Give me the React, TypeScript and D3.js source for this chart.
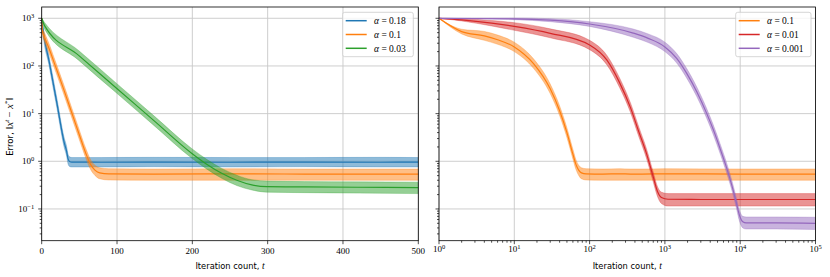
import React from 'react';
import * as d3 from 'd3';

// rows: [iteration t, lower band, mean, upper band]
type Row = [number, number, number, number];

const blueRows: Row[] = [
  [1, 1000, 1000, 1000],
  [2, 630, 708, 790],
  [11, 97, 122, 153],
  [21, 13.6, 17.2, 21.7],
  [31, 1.92, 2.43, 3.06],
  [34, 1.3, 1.64, 2.07],
  [36, 0.88, 1.12, 1.4],
  [38, 0.78, 0.99, 1.24],
  [41, 0.76, 0.96, 1.2],
  [80, 0.76, 0.955, 1.2],
  [150, 0.77, 0.96, 1.21],
  [250, 0.76, 0.955, 1.2],
  [350, 0.77, 0.96, 1.2],
  [450, 0.76, 0.955, 1.21],
  [501, 0.76, 0.96, 1.2],
];

const orangeRows: Row[] = [
  [1, 1000, 1000, 1000],
  [2, 470, 525, 590],
  [4, 345, 427, 530],
  [6, 285, 355, 445],
  [10, 200, 251, 315],
  [18, 89, 112, 141],
  [30, 26.3, 33.1, 41.7],
  [40, 9.1, 11.5, 14.5],
  [50, 3.15, 3.98, 5.0],
  [60, 1.12, 1.41, 1.78],
  [66, 0.67, 0.85, 1.07],
  [72, 0.5, 0.645, 0.82],
  [78, 0.43, 0.57, 0.73],
  [90, 0.405, 0.545, 0.7],
  [150, 0.4, 0.54, 0.69],
  [250, 0.4, 0.545, 0.7],
  [350, 0.4, 0.54, 0.69],
  [501, 0.4, 0.54, 0.69],
  [1000, 0.4, 0.545, 0.7],
  [10000, 0.4, 0.54, 0.69],
  [100000, 0.4, 0.54, 0.69],
];

const greenRows: Row[] = [
  [1, 1000, 1000, 1000],
  [5, 590, 692, 810],
  [50, 132, 167, 211],
  [100, 27.4, 34.6, 43.6],
  [150, 5.65, 7.14, 9.0],
  [200, 1.17, 1.48, 1.86],
  [220, 0.69, 0.87, 1.1],
  [240, 0.44, 0.56, 0.71],
  [260, 0.31, 0.4, 0.51],
  [280, 0.25, 0.32, 0.41],
  [300, 0.225, 0.295, 0.385],
  [350, 0.22, 0.29, 0.375],
  [420, 0.215, 0.285, 0.37],
  [501, 0.21, 0.28, 0.365],
];

const redRows: Row[] = [
  [1, 1000, 1000, 1000],
  [2, 880, 930, 980],
  [5, 690, 794, 900],
  [10, 560, 676, 810],
  [30, 390, 484, 600],
  [100, 220, 275, 345],
  [170, 105, 132, 166],
  [250, 35.5, 44.7, 56],
  [350, 10.5, 13.2, 16.6],
  [450, 3.3, 4.17, 5.25],
  [570, 1.15, 1.45, 1.82],
  [700, 0.37, 0.47, 0.59],
  [800, 0.18, 0.23, 0.29],
  [900, 0.13, 0.174, 0.225],
  [1100, 0.115, 0.16, 0.21],
  [3000, 0.115, 0.158, 0.21],
  [10000, 0.115, 0.158, 0.21],
  [100000, 0.115, 0.158, 0.21],
];

const purpleRows: Row[] = [
  [1, 1000, 1000, 1000],
  [10, 935, 977, 1020],
  [30, 850, 912, 980],
  [100, 675, 759, 850],
  [380, 400, 490, 595],
  [600, 310, 380, 470],
  [1000, 200, 251, 316],
  [1435, 115, 145, 182],
  [1950, 55.5, 70, 88],
  [2650, 22.8, 28.8, 36.3],
  [3600, 7.9, 10, 12.6],
  [4400, 3.6, 4.57, 5.75],
  [5400, 1.47, 1.86, 2.34],
  [6630, 0.56, 0.713, 0.9],
  [7730, 0.25, 0.316, 0.4],
  [8830, 0.11, 0.141, 0.178],
  [9770, 0.056, 0.074, 0.094],
  [10820, 0.04, 0.054, 0.07],
  [12000, 0.038, 0.051, 0.068],
  [30000, 0.038, 0.051, 0.068],
  [100000, 0.037, 0.05, 0.067],
];

const leftSeries = [
  { alpha: '0.18', color: '#1f77b4', rows: blueRows },
  { alpha: '0.1', color: '#ff7f0e', rows: orangeRows },
  { alpha: '0.03', color: '#2ca02c', rows: greenRows },
];

const rightSeries = [
  { alpha: '0.1', color: '#ff7f0e', rows: orangeRows },
  { alpha: '0.01', color: '#d62728', rows: redRows },
  { alpha: '0.001', color: '#9467bd', rows: purpleRows },
];

const SERIF = '"Liberation Serif", "DejaVu Serif", serif';
const SANS = '"DejaVu Sans", sans-serif';

const top = 7;
const bottom = 240.7;

const yScale = d3.scaleLog().domain([10 ** -1.666, 10 ** 3.237]).range([bottom, top]);

const isDecade = (v: number) => Math.abs(Math.log10(v) - Math.round(Math.log10(v))) < 1e-9;
const expLabel = (v: number) => {
  const e = Math.round(Math.log10(v));
  return e < 0 ? '\u2212' + -e : String(e);
};

type Series = { alpha: string; color: string; rows: Row[] };

function Panel(props: {
  id: string;
  x0: number;
  x1: number;
  logX: boolean;
  series: Series[];
  showYLabels: boolean;
  legendX: number;
  legendW: number;
}) {
  const { id, x0, x1, logX, series, showYLabels, legendX, legendW } = props;
  const xScale: any = logX
    ? d3.scaleLog().domain([1, 1e5]).range([x0, x1])
    : d3.scaleLinear().domain([0, 500]).range([x0, x1]);
  // left panel counts from zero
  const xOf = (t: number) => (logX ? t : t - 1);

  const line = d3.line<Row>()
    .x((r) => xScale(xOf(r[0])))
    .y((r) => yScale(r[2]))
    .curve(d3.curveMonotoneX);
  const area = d3.area<Row>()
    .x((r) => xScale(xOf(r[0])))
    .y0((r) => yScale(r[1]))
    .y1((r) => yScale(r[3]))
    .curve(d3.curveMonotoneX);

  const xAll: number[] = logX ? xScale.ticks() : xScale.ticks(5);
  const xMajor = logX ? xAll.filter(isDecade) : xAll;
  const xMinor = logX ? xAll.filter((v) => !isDecade(v)) : [];
  const yAll = yScale.ticks();
  const yMajor = yAll.filter(isDecade);
  const yMinor = yAll.filter((v) => !isDecade(v));

  const rowY = [20.7, 34.5, 48.3];

  return (
    <g>
      <defs>
        <clipPath id={`clip-${id}`}>
          <rect x={x0} y={top} width={x1 - x0} height={bottom - top} />
        </clipPath>
      </defs>

      {/* grid */}
      <g stroke="#c8c8c8" strokeWidth={0.9}>
        {xMajor.map((v) => (
          <line key={'gx' + v} x1={xScale(v)} x2={xScale(v)} y1={top} y2={bottom} />
        ))}
        {yMajor.map((v) => (
          <line key={'gy' + v} x1={x0} x2={x1} y1={yScale(v)} y2={yScale(v)} />
        ))}
      </g>

      {/* bands and mean lines */}
      <g clipPath={`url(#clip-${id})`}>
        {series.map((s) => (
          <g key={s.alpha}>
            <path d={area(s.rows) || ''} fill={s.color} fillOpacity={0.5}
              stroke={s.color} strokeOpacity={0.5} strokeWidth={0.6} />
            <path d={line(s.rows) || ''} fill="none" stroke={s.color} strokeWidth={1.2} />
          </g>
        ))}
      </g>

      {/* spines */}
      <rect x={x0} y={top} width={x1 - x0} height={bottom - top} fill="none" stroke="#000" strokeWidth={0.8} />

      {/* y ticks */}
      <g stroke="#000" strokeWidth={0.7}>
        {yMajor.map((v) => (
          <line key={'ty' + v} x1={x0 - 3.5} x2={x0} y1={yScale(v)} y2={yScale(v)} />
        ))}
        {yMinor.map((v) => (
          <line key={'my' + v} x1={x0 - 2} x2={x0} y1={yScale(v)} y2={yScale(v)} />
        ))}
      </g>
      {showYLabels &&
        yMajor.map((v) => (
          <text key={'ly' + v} x={x0 - 7.5} y={yScale(v) + 3.2} textAnchor="end" fontFamily={SERIF} fontSize={9}>
            10<tspan fontSize={6.5} dy={-3.6}>{expLabel(v)}</tspan>
          </text>
        ))}

      {/* x ticks */}
      <g stroke="#000" strokeWidth={0.7}>
        {xMajor.map((v) => (
          <line key={'tx' + v} x1={xScale(v)} x2={xScale(v)} y1={bottom} y2={bottom + 3.5} />
        ))}
        {xMinor.map((v) => (
          <line key={'mx' + v} x1={xScale(v)} x2={xScale(v)} y1={bottom} y2={bottom + 2} />
        ))}
      </g>
      {xMajor.map((v) =>
        logX ? (
          <text key={'lx' + v} x={xScale(v)} y={252.2} textAnchor="middle" fontFamily={SERIF} fontSize={9}>
            10<tspan fontSize={6.5} dy={-3.6}>{expLabel(v)}</tspan>
          </text>
        ) : (
          <text key={'lx' + v} x={xScale(v)} y={254.3} textAnchor="middle" fontFamily={SERIF} fontSize={9}>
            {v}
          </text>
        )
      )}

      <text x={(x0 + x1) / 2} y={269} textAnchor="middle" fontFamily={SANS} fontSize={8.3}>
        Iteration count, <tspan fontFamily={SERIF} fontStyle="italic" fontSize={9.5}>t</tspan>
      </text>

      {/* legend */}
      <rect x={legendX} y={12.3} width={legendW} height={44.4} rx={2} fill="#fff" fillOpacity={0.8}
        stroke="#cccccc" strokeWidth={0.8} />
      {series.map((s, i) => (
        <g key={'lg' + s.alpha}>
          <line x1={legendX + 3} x2={legendX + 24} y1={rowY[i]} y2={rowY[i]} stroke={s.color} strokeWidth={1.5} />
          <text x={legendX + 31.3} y={rowY[i] + 3.2} fontFamily={SERIF} fontSize={9.5}>
            <tspan fontStyle="italic">α</tspan> = {s.alpha}
          </text>
        </g>
      ))}
    </g>
  );
}

export default function App() {
  return (
    <svg width={830} height={277} style={{ position: 'absolute', left: 0, top: 0, background: '#fff' }}>
      <Panel id="left" x0={41.7} x1={418.3} logX={false} series={leftSeries} showYLabels={true}
        legendX={342.7} legendW={70.6} />
      <Panel id="right" x0={439} x1={815.5} logX={true} series={rightSeries} showYLabels={false}
        legendX={735.7} legendW={75.3} />

      <text transform="translate(12.7,126.7) rotate(-90)" textAnchor="middle" fontSize={8.6}>
        <tspan fontFamily={SANS}>Error, </tspan>
        <tspan fontFamily={SERIF} fontSize={10.5}>‖</tspan>
        <tspan fontFamily={SERIF} fontStyle="italic" fontSize={10.5}>x</tspan>
        <tspan fontFamily={SERIF} fontStyle="italic" fontSize={7} dy={-3.8}>t</tspan>
        <tspan fontFamily={SERIF} fontSize={10.5} dy={3.8}> − </tspan>
        <tspan fontFamily={SERIF} fontStyle="italic" fontSize={10.5}>x</tspan>
        <tspan fontFamily={SERIF} fontSize={7} dy={-3.8}>*</tspan>
        <tspan fontFamily={SERIF} fontSize={10.5} dy={3.8}>‖</tspan>
      </text>
    </svg>
  );
}
